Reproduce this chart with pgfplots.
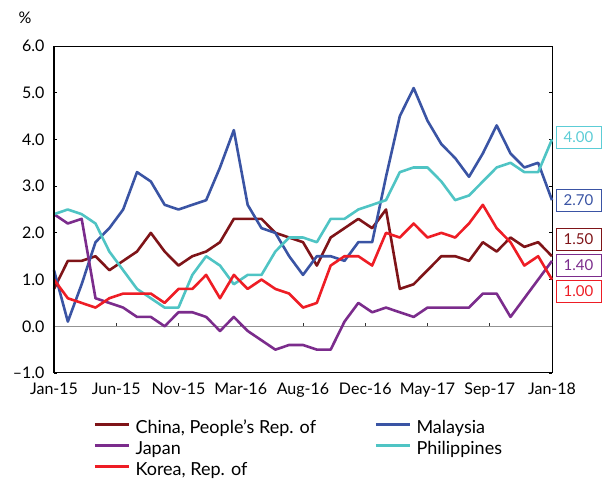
\documentclass[border=0pt]{standalone}
\usepackage{fontspec}
\setmainfont{Lato}
\usepackage{pgfplots}
\pgfplotsset{compat=1.18}
\usepackage{pgfplotstable}
\definecolor{cn}{HTML}{7F1418}
\definecolor{jp}{HTML}{7B2C8C}
\definecolor{kr}{HTML}{EE1D25}
\definecolor{my}{HTML}{3A54A4}
\definecolor{ph}{HTML}{4FC4C4}
\definecolor{phlab}{HTML}{5CCDD6}

\pgfplotstableread{
x China Japan Korea Malaysia Philippines
0 0.8 2.4 1.0 1.2 2.4
1 1.4 2.2 0.6 0.1 2.5
2 1.4 2.3 0.5 0.9 2.4
3 1.5 0.6 0.4 1.8 2.2
4 1.2 0.5 0.6 2.1 1.6
5 1.4 0.4 0.7 2.5 1.2
6 1.6 0.2 0.7 3.3 0.8
7 2.0 0.2 0.7 3.1 0.6
8 1.6 0.0 0.5 2.6 0.4
9 1.3 0.3 0.8 2.5 0.4
10 1.5 0.3 0.8 2.6 1.1
11 1.6 0.2 1.1 2.7 1.5
12 1.8 -0.1 0.6 3.4 1.3
13 2.3 0.2 1.1 4.2 0.9
14 2.3 -0.1 0.8 2.6 1.1
15 2.3 -0.3 1.0 2.1 1.1
16 2.0 -0.5 0.8 2.0 1.6
17 1.9 -0.4 0.7 1.5 1.9
18 1.8 -0.4 0.4 1.1 1.9
19 1.3 -0.5 0.5 1.5 1.8
20 1.9 -0.5 1.3 1.5 2.3
21 2.1 0.1 1.5 1.4 2.3
22 2.3 0.5 1.5 1.8 2.5
23 2.1 0.3 1.3 1.8 2.6
24 2.5 0.4 2.0 3.2 2.7
25 0.8 0.3 1.9 4.5 3.3
26 0.9 0.2 2.2 5.1 3.4
27 1.2 0.4 1.9 4.4 3.4
28 1.5 0.4 2.0 3.9 3.1
29 1.5 0.4 1.9 3.6 2.7
30 1.4 0.4 2.2 3.2 2.8
31 1.8 0.7 2.6 3.7 3.1
32 1.6 0.7 2.1 4.3 3.4
33 1.9 0.2 1.8 3.7 3.5
34 1.7 0.6 1.3 3.4 3.3
35 1.8 1.0 1.5 3.5 3.3
36 1.5 1.4 1.0 2.7 4.0
}\datatable

\begin{document}
\begin{tikzpicture}[font=\fontsize{16}{19}\selectfont]
\begin{axis}[
  scale only axis, width=498pt, height=327pt,
  xmin=0, xmax=36, ymin=-1, ymax=6,
  xtick={0,4.5,9,13.5,18,22.5,27,31.5,36},
  xticklabels={Jan-15,Jun-15,Nov-15,Mar-16,Aug-16,Dec-16,May-17,Sep-17,Jan-18},
  x tick label style={yshift=-6pt},
  xtick style={draw=none},
  ytick={-1,0,1,2,3,4,5,6},
  yticklabels={–1.0,0.0,1.0,2.0,3.0,4.0,5.0,6.0},
  y tick label style={xshift=-6pt},
  ytick style={black, line width=0.8pt},
  tick align=inside, major tick length=3pt,
  axis line style={black, line width=1pt},
  clip=false,
  legend columns=2, legend cell align=left,
  legend style={draw=none, fill=none, at={(0.078,-0.145)}, anchor=north west,
    inner sep=0pt, row sep=4pt, font=\fontsize{18}{21}\selectfont,
    nodes={inner sep=0pt, text height=13pt, text depth=4pt},
    /tikz/column 2/.style={column sep=58pt},
    /tikz/column 1/.style={column sep=5pt},
    /tikz/column 3/.style={column sep=5pt}},
  legend image code/.code={\draw[#1, line width=3.5pt] (0pt,4.5pt) -- (34pt,4.5pt);},
  every axis plot/.append style={line width=2.6pt, line join=round, no markers},
]
\draw[gray!85, line width=1pt] (axis cs:0,0) -- (axis cs:36,0);
\draw[black!80, line width=0.8pt] (axis cs:4.5,0) -- ++(0pt,3pt);
\draw[black!80, line width=0.8pt] (axis cs:9,0) -- ++(0pt,3pt);
\draw[black!80, line width=0.8pt] (axis cs:13.5,0) -- ++(0pt,3pt);
\draw[black!80, line width=0.8pt] (axis cs:18,0) -- ++(0pt,3pt);
\draw[black!80, line width=0.8pt] (axis cs:22.5,0) -- ++(0pt,3pt);
\draw[black!80, line width=0.8pt] (axis cs:27,0) -- ++(0pt,3pt);
\draw[black!80, line width=0.8pt] (axis cs:31.5,0) -- ++(0pt,3pt);

\addplot[cn] table[x=x, y=China] {\datatable};
\addlegendentry{China, People’s Rep. of}
\addplot[my] table[x=x, y=Malaysia] {\datatable};
\addlegendentry{Malaysia}
\addplot[jp] table[x=x, y=Japan] {\datatable};
\addlegendentry{Japan}
\addplot[ph] table[x=x, y=Philippines] {\datatable};
\addlegendentry{Philippines}
\addplot[kr] table[x=x, y=Korea] {\datatable};
\addlegendentry{Korea, Rep. of}

\draw[black, line width=2pt] (axis cs:0,-1) -- (axis cs:0,6);

\node at ([xshift=-29pt, yshift=28pt] rel axis cs:0,1) {\%};

\tikzset{endlab/.style={fill=white, line width=1pt, minimum width=45pt, minimum height=22pt, inner sep=0pt, font=\fontsize{15}{15}\selectfont}}
\node[endlab, draw=phlab, text=phlab] at ([xshift=26.5pt] axis cs:36,4.05) {4.00};
\node[endlab, draw=my, text=my] at ([xshift=26.5pt] axis cs:36,2.70) {2.70};
\node[endlab, draw=cn, text=cn] at ([xshift=26.5pt] axis cs:36,1.86) {1.50};
\node[endlab, draw=jp, text=jp] at ([xshift=26.5pt] axis cs:36,1.30) {1.40};
\node[endlab, draw=kr, text=kr] at ([xshift=26.5pt] axis cs:36,0.75) {1.00};
\end{axis}
\pgfresetboundingbox
\path (-54pt,-108pt) rectangle (554pt,373pt);
\end{tikzpicture}
\end{document}
